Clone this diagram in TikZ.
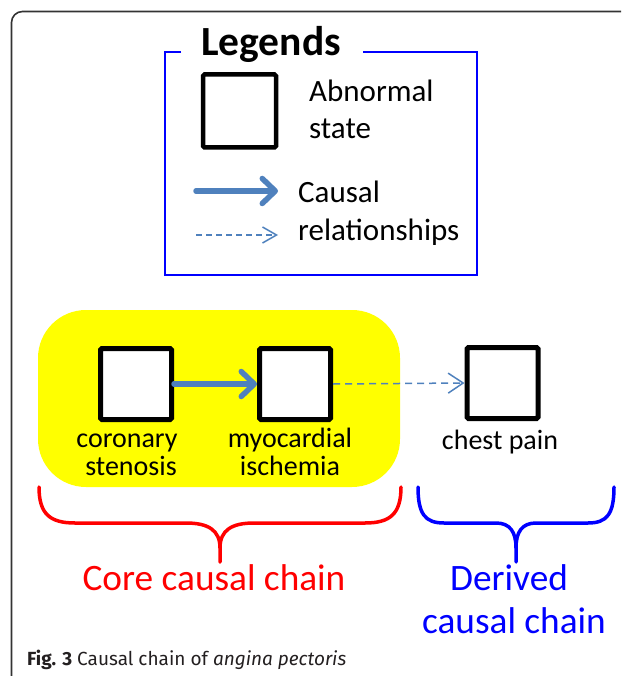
\documentclass[tikz,border=0pt]{standalone}
\usepackage{fontspec}
\setmainfont{Carlito}
\newfontfamily\capfont{Fira Sans}
\usetikzlibrary{arrows.meta}
\definecolor{arrowblue}{HTML}{4F81BD}
\definecolor{bordergray}{HTML}{333333}
\definecolor{capgray}{HTML}{231F20}
\definecolor{legblue}{HTML}{0000FF}
\definecolor{corered}{HTML}{FF0000}
\definecolor{coreyellow}{HTML}{FFFF00}
\begin{document}
\begin{tikzpicture}[x=1pt,y=-1pt,
  statebox/.style={draw=black, line width=5pt, fill=white, minimum width=71pt, minimum height=71pt, inner sep=0pt, rounded corners=1.5pt},
  lbl/.style={font=\fontsize{28}{32}\selectfont, anchor=base, inner sep=0pt},
  legtxt/.style={font=\fontsize{31}{35}\selectfont, anchor=base west, inner sep=0pt},
  chaintxt/.style={font=\fontsize{37.3}{40}\selectfont, anchor=base, inner sep=0pt},
  causal/.style={draw=arrowblue, line width=5.5pt, line cap=round, -{Straight Barb[length=13pt,width=25pt,round]}},
  derived/.style={draw=arrowblue, line width=1.5pt, dash pattern=on 7pt off 5pt, -{Straight Barb[length=15pt,width=20pt]}},
  bracestyle/.style={line width=3.5pt, line cap=round, line join=round}
]
\useasboundingbox (0,0) rectangle (621,676);
\clip (0,0) rectangle (621,676);
% outer frame
\draw[bordergray, line width=1.6pt, rounded corners=11pt] (11.5,11.5) rectangle (700,700);

% legend frame
\draw[legblue, line width=2pt] (181,52.5) -- (165,52.5) -- (165,275) -- (477,275) -- (477,52.5) -- (363,52.5);
\node[font=\bfseries\fontsize{41.5}{44}\selectfont, anchor=base, inner sep=0pt] (legtitle) at (271,56) {Legends};
\node[statebox, line width=4.5pt, minimum width=73pt, minimum height=73pt] (legbox) at (239.5,111) {};
\node[legtxt] (legabn1) at (309,102) {Abnormal};
\node[legtxt] (legabn2) at (309,139) {state};
\coordinate (lc1s) at (196,191);
\coordinate (lc1e) at (278,191);
\coordinate (lc2s) at (196,235);
\coordinate (lc2e) at (278,235);
\draw[causal] (lc1s) -- (lc1e);
\draw[derived, dash pattern=on 6pt off 4pt, -{Straight Barb[length=14pt,width=16pt]}] (lc2s) -- (lc2e);
\node[legtxt] (legcaus1) at (298,203) {Causal};
\node[legtxt] (legcaus2) at (298,240) {relationships};

% core region
\node[fill=coreyellow, rounded corners=48pt, minimum width=362pt, minimum height=177pt, inner sep=0pt] (core) at (219,398.5) {};

% state boxes
\node[statebox] (cs) at (136,384) {};
\node[statebox] (mi) at (295,384) {};
\node[statebox] (cp) at (502.5,383) {};

\draw[causal] (cs.east) -- (mi.west);
\draw[derived] (mi.east) -- (cp.west);

\node[lbl] (cs1) at (127,447) {coronary};
\node[lbl] (cs2) at (131,475) {stenosis};
\node[lbl] (mi1) at (290,447) {myocardial};
\node[lbl] (mi2) at (290,475) {ischemia};
\node[lbl] (cp1) at (500,449) {chest pain};

% braces
\draw[corered, bracestyle] (39,487) .. controls (39,514) and (50,523) .. (75,523) -- (186,523) .. controls (208,523) and (220,530) .. (220,548) -- (220,562);
\draw[corered, bracestyle] (401,487) .. controls (401,514) and (390,523) .. (365,523) -- (254,523) .. controls (232,523) and (220,530) .. (220,548);
\draw[legblue, bracestyle] (418,487) .. controls (418,514) and (425,523) .. (444,523) -- (496,523) .. controls (510,523) and (516,532) .. (516,548) -- (516,562);
\draw[legblue, bracestyle] (614,487) .. controls (614,514) and (607,523) .. (588,523) -- (536,523) .. controls (522,523) and (516,532) .. (516,548);

\node[chaintxt, text=corered] (coretxt) at (214,590) {Core causal chain};
\node[chaintxt, text=legblue] (der1) at (509,590) {Derived};
\node[chaintxt, text=legblue] (der2) at (514,633) {causal chain};

% caption
\node[font=\capfont\fontsize{19}{22}\selectfont, text=capgray, anchor=base west, inner sep=0pt] (caption) at (27,665) {\textbf{Fig. 3} Causal chain of \textit{angina pectoris}};
\end{tikzpicture}
\end{document}
